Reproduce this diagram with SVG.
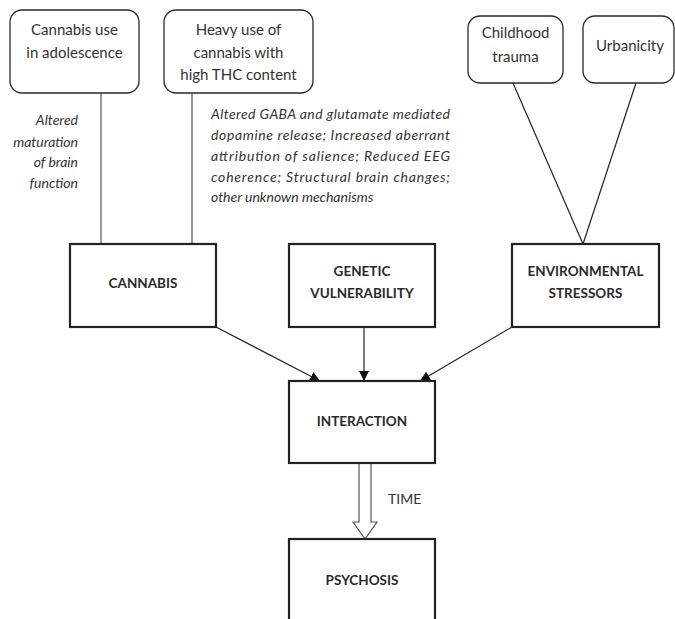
<svg xmlns="http://www.w3.org/2000/svg" width="675" height="619" viewBox="0 0 675 619">
<defs>
<style>
.rb{fill:#fff;stroke:#2a2a2a;stroke-width:1.3}
.bx{fill:#fff;stroke:#222;stroke-width:2.2}
.t{font-family:Lato,"Open Sans","Liberation Sans",sans-serif;font-size:15px;fill:#333;text-anchor:middle}
.b{font-family:Lato,"Open Sans","Liberation Sans",sans-serif;font-size:13.5px;font-weight:bold;fill:#2a2a2a;text-anchor:middle}
.i{font-family:Lato,"Open Sans","Liberation Sans",sans-serif;font-size:14px;font-style:italic;fill:#333}
.gl{stroke:#555;stroke-width:1.2;fill:none}
.bl{stroke:#222;stroke-width:1.2;fill:none}
</style>
<marker id="ah" viewBox="0 0 10 10" refX="10" refY="5" markerWidth="10" markerHeight="10" markerUnits="userSpaceOnUse" orient="auto">
<path d="M0,0 L10,5 L0,10 z" fill="#111"/>
</marker>
</defs>
<rect width="675" height="619" fill="#fff"/>
<g id="connectors">
<line class="gl" x1="101" y1="93" x2="101" y2="244"/>
<line class="gl" x1="192" y1="93" x2="192" y2="244"/>
<line class="bl" x1="513" y1="83" x2="583" y2="244"/>
<line class="bl" x1="636" y1="83" x2="583" y2="244"/>
<line class="bl" x1="216" y1="327" x2="320" y2="381" marker-end="url(#ah)"/>
<line class="bl" x1="364" y1="327" x2="364" y2="381" marker-end="url(#ah)"/>
<line class="bl" x1="512" y1="327" x2="420" y2="381" marker-end="url(#ah)"/>
<path d="M359,463 L359,522 L353,522 L365,539 L377,522 L371,522 L371,463" fill="#fff" stroke="#555" stroke-width="1.2"/>
<text class="t" x="388" y="504" style="text-anchor:start;font-size:14px">TIME</text>
</g>
<g id="labels">
<text class="i" text-anchor="end" x="78" y="125">Altered</text>
<text class="i" text-anchor="end" x="78" y="147">maturation</text>
<text class="i" text-anchor="end" x="78" y="167">of brain</text>
<text class="i" text-anchor="end" x="78" y="188">function</text>
<text class="i" x="211" y="119" textLength="239" lengthAdjust="spacing">Altered GABA and glutamate mediated</text>
<text class="i" x="211" y="140" textLength="239" lengthAdjust="spacing">dopamine release; Increased aberrant</text>
<text class="i" x="211" y="161" textLength="239" lengthAdjust="spacing">attribution of salience; Reduced EEG</text>
<text class="i" x="211" y="182" textLength="239" lengthAdjust="spacing">coherence; Structural brain changes;</text>
<text class="i" x="211" y="202">other unknown mechanisms</text>
</g>
<g id="n-adolescence">
<rect class="rb" x="10" y="10" width="129" height="83" rx="12"/>
<text class="t" x="74.5" y="35">Cannabis use</text>
<text class="t" x="74.5" y="58">in adolescence</text>
</g>
<g id="n-heavy">
<rect class="rb" x="164" y="10" width="149" height="83" rx="12"/>
<text class="t" x="238.5" y="35">Heavy use of</text>
<text class="t" x="238.5" y="58">cannabis with</text>
<text class="t" x="238.5" y="80">high THC content</text>
</g>
<g id="n-trauma">
<rect class="rb" x="468" y="16" width="95" height="67" rx="12"/>
<text class="t" x="515.5" y="38">Childhood</text>
<text class="t" x="515.5" y="62">trauma</text>
</g>
<g id="n-urban">
<rect class="rb" x="583" y="16" width="91" height="67" rx="12"/>
<text class="t" x="630" y="51">Urbanicity</text>
</g>
<g id="n-cannabis">
<rect class="bx" x="70" y="244" width="146" height="83"/>
<text class="b" x="143" y="288">CANNABIS</text>
</g>
<g id="n-genetic">
<rect class="bx" x="289" y="244" width="146" height="83"/>
<text class="b" x="362" y="276">GENETIC</text>
<text class="b" x="362" y="298">VULNERABILITY</text>
</g>
<g id="n-env">
<rect class="bx" x="512" y="244" width="147" height="83"/>
<text class="b" x="585.5" y="276">ENVIRONMENTAL</text>
<text class="b" x="585.5" y="298">STRESSORS</text>
</g>
<g id="n-interaction">
<rect class="bx" x="289" y="381" width="146" height="82"/>
<text class="b" x="362" y="426">INTERACTION</text>
</g>
<g id="n-psychosis">
<rect class="bx" x="289" y="539" width="146" height="90"/>
<text class="b" x="362" y="585">PSYCHOSIS</text>
</g>
</svg>
